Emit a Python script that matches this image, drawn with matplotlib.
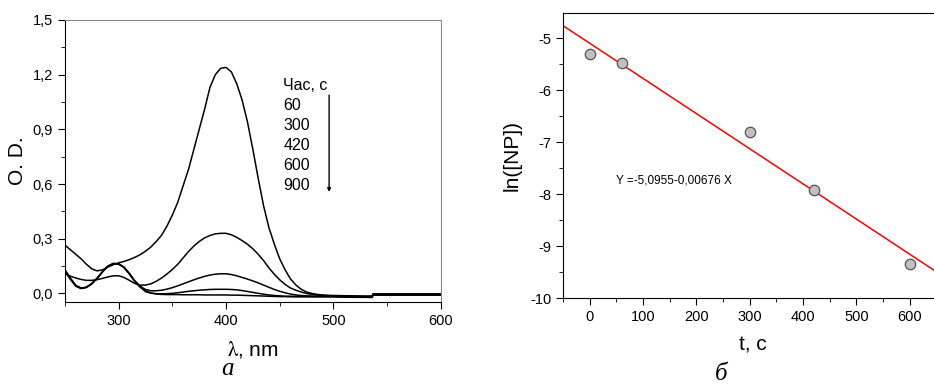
import matplotlib
matplotlib.use("Agg")
import matplotlib.pyplot as plt
from matplotlib.ticker import MultipleLocator, FuncFormatter

plt.rcParams["font.family"] = ["Liberation Sans", "DejaVu Sans"]
plt.rcParams["mathtext.fontset"] = "stix"
plt.rcParams["axes.unicode_minus"] = False

# --- (a) спектри поглинання -------------------------------------------------
wavelength = list(range(250, 505, 5)) + [510, 520, 530, 536, 537, 550, 560, 570, 580, 590, 600]

od_60 = [0.265, 0.24, 0.215, 0.19, 0.16, 0.135, 0.124, 0.13, 0.145, 0.158,
         0.168, 0.176, 0.186, 0.198, 0.213, 0.232, 0.255, 0.285, 0.32, 0.37,
         0.43, 0.50, 0.59, 0.68, 0.79, 0.90, 1.01, 1.13, 1.20, 1.235,
         1.24, 1.215, 1.15, 1.06, 0.94, 0.79, 0.63, 0.48, 0.36, 0.27,
         0.19, 0.13, 0.08, 0.047, 0.023, 0.008, 0.0, -0.005, -0.008, -0.010,
         -0.011,
         -0.012, -0.013, -0.014, -0.014, -0.002, -0.002, -0.002, -0.002, -0.002, -0.002, -0.002]
od_300 = [0.11, 0.095, 0.085, 0.077, 0.072, 0.072, 0.076, 0.083, 0.091, 0.097,
          0.097, 0.088, 0.072, 0.055, 0.046, 0.046, 0.053, 0.067, 0.085, 0.107,
          0.132, 0.16, 0.195, 0.23, 0.26, 0.285, 0.305, 0.318, 0.327, 0.33,
          0.33, 0.322, 0.308, 0.29, 0.27, 0.245, 0.215, 0.18, 0.14, 0.105,
          0.075, 0.05, 0.03, 0.018, 0.008, 0.0, -0.005, -0.009, -0.011, -0.012,
          -0.013,
          -0.014, -0.015, -0.016, -0.016, -0.004, -0.004, -0.004, -0.004, -0.004, -0.004, -0.004]
od_420 = [0.13, 0.085, 0.045, 0.03, 0.035, 0.055, 0.085, 0.12, 0.15, 0.165,
          0.163, 0.145, 0.11, 0.07, 0.04, 0.022, 0.015, 0.015, 0.018, 0.024,
          0.032, 0.042, 0.053, 0.064, 0.075, 0.085, 0.094, 0.101, 0.106, 0.108,
          0.108, 0.104, 0.097, 0.088, 0.079, 0.069, 0.058, 0.046, 0.034, 0.022,
          0.012, 0.004, -0.003, -0.008, -0.011, -0.013, -0.014, -0.015, -0.015, -0.016,
          -0.016,
          -0.017, -0.018, -0.018, -0.019, -0.006, -0.006, -0.006, -0.006, -0.006, -0.006, -0.006]
od_600 = [0.125, 0.08, 0.042, 0.028, 0.034, 0.054, 0.084, 0.12, 0.15, 0.164,
          0.162, 0.143, 0.108, 0.068, 0.036, 0.01, 0.002, -0.001, -0.002, -0.001,
          0.001, 0.004, 0.008, 0.012, 0.015, 0.018, 0.020, 0.022, 0.023, 0.023,
          0.023, 0.022, 0.02, 0.016, 0.011, 0.006, 0.001, -0.004, -0.008, -0.011,
          -0.013, -0.015, -0.015, -0.016, -0.016, -0.016, -0.017, -0.017, -0.017, -0.017,
          -0.017,
          -0.018, -0.019, -0.02, -0.02, -0.007, -0.007, -0.007, -0.007, -0.007, -0.007, -0.007]
od_900 = [0.12, 0.078, 0.04, 0.027, 0.033, 0.053, 0.083, 0.119, 0.149, 0.163,
          0.161, 0.142, 0.106, 0.066, 0.035, 0.015, 0.003, -0.003, -0.005, -0.006,
          -0.006, -0.006, -0.007, -0.007, -0.007, -0.007, -0.008, -0.008, -0.008, -0.008,
          -0.008, -0.009, -0.009, -0.01, -0.011, -0.012, -0.013, -0.014, -0.015, -0.016,
          -0.017, -0.017, -0.018, -0.018, -0.018, -0.018, -0.018, -0.018, -0.018, -0.018,
          -0.018,
          -0.02, -0.021, -0.021, -0.022, -0.009, -0.009, -0.009, -0.009, -0.009, -0.009, -0.009]
spectra = [od_60, od_300, od_420, od_600, od_900]
time_labels = ["60", "300", "420", "600", "900"]

# --- (б) кінетика -----------------------------------------------------------
t_points = [0, 60, 300, 420, 600]
ln_np = [-5.31, -5.47, -6.81, -7.92, -9.34]
fit_a = -5.0955
fit_b = -0.00676
fit_text = "Y =-5,0955-0,00676 X"


def comma(v, pos):
    return f"{v:.1f}".replace(".", ",")


fig = plt.figure(figsize=(9.34, 3.86), dpi=100)

# ---------------------------------------------------------------------------
# панель а
# ---------------------------------------------------------------------------
ax1 = fig.add_axes([0.0696, 0.2184, 0.4023, 0.7298])
for od in spectra:
    ax1.plot(wavelength, od, color="black", lw=1.1)
ax1.set_xlim(250, 600)
ax1.set_ylim(-0.045, 1.5)
ax1.xaxis.set_major_locator(MultipleLocator(100))
ax1.xaxis.set_minor_locator(MultipleLocator(50))
ax1.yaxis.set_major_locator(MultipleLocator(0.3))
ax1.yaxis.set_minor_locator(MultipleLocator(0.15))
ax1.yaxis.set_major_formatter(FuncFormatter(comma))
ax1.tick_params(which="both", direction="out", labelsize=10.5, top=False, right=False)
ax1.tick_params(which="major", length=5)
ax1.tick_params(which="minor", length=3)
ax1.set_xlabel(r"$\mathrm{\lambda}$, nm", fontsize=15, labelpad=8)
ax1.set_ylabel("O. D.", fontsize=15, labelpad=4)
for side in ["top", "right"]:
    ax1.spines[side].set_color("#888888")

ax1.text(453.5, 1.143, "Час, с", fontsize=11.5, va="center", ha="left")
for i, lab in enumerate(time_labels):
    ax1.text(453.5, 1.033 - 0.11 * i, lab, fontsize=11.5, va="center", ha="left")
ax1.annotate("", xy=(496, 0.557), xytext=(496, 1.088),
             arrowprops=dict(arrowstyle="-|>", color="black", lw=1.0,
                             mutation_scale=5, shrinkA=0, shrinkB=0))

fig.text(228 / 934, 1 - 369 / 386, "a", fontsize=18, style="italic",
         family=["Liberation Serif", "DejaVu Serif"], ha="center", va="center")

# ---------------------------------------------------------------------------
# панель б
# ---------------------------------------------------------------------------
ax2 = fig.add_axes([0.6028, 0.2272, 0.4054, 0.7383])
ax2.axline((0, fit_a), slope=fit_b, color="red", lw=1.1)
ax2.plot(t_points, ln_np, "o", ms=7.5, mfc="#c0c0c0", mec="#555555", mew=0.9, zorder=3)
ax2.set_xlim(-50, 660)
ax2.set_ylim(-10, -4.52)
ax2.xaxis.set_major_locator(MultipleLocator(100))
ax2.xaxis.set_minor_locator(MultipleLocator(50))
ax2.yaxis.set_major_locator(MultipleLocator(1))
ax2.yaxis.set_minor_locator(MultipleLocator(0.5))
ax2.tick_params(which="both", direction="out", labelsize=10.5, top=False, right=False)
ax2.tick_params(which="major", length=5)
ax2.tick_params(which="minor", length=3)
ax2.set_xlabel("t, c", fontsize=15, labelpad=8)
ax2.set_ylabel("ln([NP])", fontsize=15, labelpad=6)
ax2.text(50, -7.74, fit_text, fontsize=8.5, va="center", ha="left")

fig.text(721 / 934, 1 - 374 / 386, "б", fontsize=18, style="italic",
         family=["Liberation Serif", "DejaVu Serif"], ha="center", va="center")

fig.savefig("out.png", dpi=100)
